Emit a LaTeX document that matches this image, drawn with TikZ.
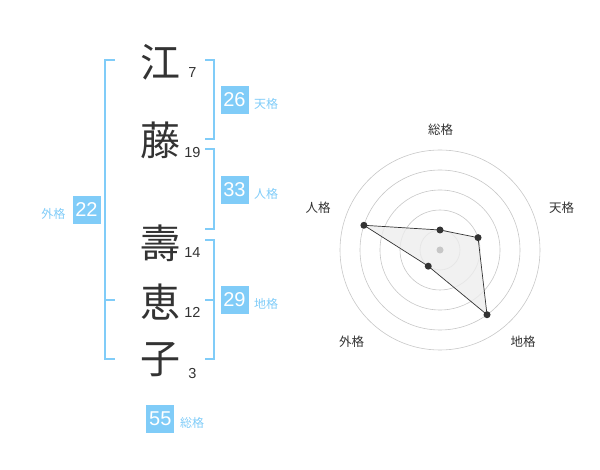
\documentclass[tikz,border=0pt]{standalone}
\usepackage{fontspec}
\setmainfont{Liberation Sans}
\newfontfamily\jp{Noto Sans CJK JP}
\usetikzlibrary{positioning}
\definecolor{kakublue}{RGB}{128,204,248}
\definecolor{ink}{RGB}{51,51,51}

\begin{document}
\begin{tikzpicture}[x=1pt, y=-1pt,
        kanji/.style={font=\jp\fontsize{40}{40}\selectfont, text=ink, inner sep=0pt},
        kakusu/.style={font=\fontsize{14.5}{15}\selectfont, text=ink, inner sep=0pt},
        kaku/.style={rectangle, fill=kakublue, text=white, minimum size=28pt, inner sep=0pt, font=\fontsize{20}{20}\selectfont},
        kakulbl/.style={font=\jp\fontsize{12}{12}\selectfont, text=kakublue, inner sep=0pt},
        bracket/.style={draw=kakublue, line width=1.6pt},
        ring/.style={draw=black!22, line width=0.6pt},
        axislbl/.style={font=\jp\fontsize{12.5}{12.5}\selectfont, text=ink, inner sep=0pt},
        dot/.style={circle, fill=ink, inner sep=0pt, minimum size=7pt}
    ]
        \useasboundingbox (0,0) rectangle (600,470);

        % name
        \node[kanji] (sei1) at (160,62) {江};
        \node[kanji] (sei2) at (160,140) {藤};
        \node[kanji] (mei1) at (160,243) {壽};
        \node[kanji] (mei2) at (160,302) {恵};
        \node[kanji] (mei3) at (160,360) {子};

        \node[kakusu] (n1) at (192.5,72.7) {7};
        \node[kakusu] (n2) at (192.5,152.7) {19};
        \node[kakusu] (n3) at (192.5,252.3) {14};
        \node[kakusu] (n4) at (192.5,312.7) {12};
        \node[kakusu] (n5) at (192.5,373.3) {3};

        % brackets
        \draw[bracket] (115,60) -- (105,60) -- (105,359) -- (115,359);
        \draw[bracket] (105,300) -- (115,300);
        \draw[bracket] (205,60) -- (214,60) -- (214,139) -- (205,139);
        \draw[bracket] (205,149) -- (214,149) -- (214,229) -- (205,229);
        \draw[bracket] (205,240) -- (214,240) -- (214,359) -- (205,359);
        \draw[bracket] (205,300) -- (214,300);

        % kaku
        \node[kaku] (ten) at (234.5,100) {26};
        \node[kakulbl, anchor=west] (tenlbl) at (254,104) {天格};
        \node[kaku] (jin) at (234.5,190) {33};
        \node[kakulbl, anchor=west] (jinlbl) at (254,194) {人格};
        \node[kaku] (chi) at (234.5,300) {29};
        \node[kakulbl, anchor=west] (chilbl) at (254,304) {地格};
        \node[kaku] (gai) at (86.5,210) {22};
        \node[kakulbl, anchor=east] (gailbl) at (65.5,214) {外格};
        \node[kaku] (sou) at (160.3,419.2) {55};
        \node[kakulbl, anchor=west] (soulbl) at (180,423) {総格};

        % radar
        \begin{scope}[shift={(440,250)}, y=1pt]
            \foreach \r in {20,40,...,100}
                \draw[ring] (0,0) circle (\r);
            \filldraw[fill=black!7, fill opacity=0.8, draw=ink, line width=0.7pt]
                (90:20) coordinate (p1) -- (18:40) coordinate (p2) -- (-54:80) coordinate (p3)
                -- (-126:20) coordinate (p4) -- (162:80) coordinate (p5) -- cycle;
            \fill[black!22] (0,0) circle (3.5);
            \foreach \i in {1,...,5}
                \node[dot] (d\i) at (p\i) {};
            \node[axislbl] (ax1) at (0.7,120) {総格};
            \node[axislbl] (ax2) at (121.7,42) {天格};
            \node[axislbl] (ax3) at (83,-91.7) {地格};
            \node[axislbl] (ax4) at (-88.3,-91.7) {外格};
            \node[axislbl] (ax5) at (-122,42) {人格};
        \end{scope}
    \end{tikzpicture}
\end{document}
